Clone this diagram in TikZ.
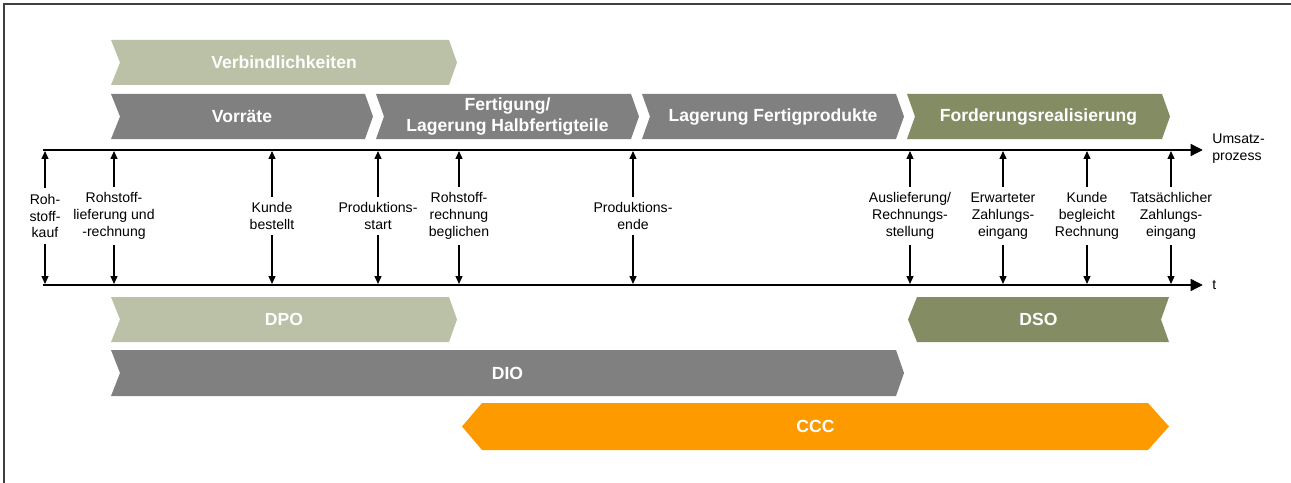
\documentclass[tikz,border=0pt]{standalone}
\usepackage{fontspec}
\setmainfont{Liberation Sans}
\usetikzlibrary{arrows.meta}

\definecolor{hellgruen}{HTML}{BAC1A6}
\definecolor{grau}{HTML}{808080}
\definecolor{dunkelgruen}{HTML}{838C63}
\definecolor{orange}{HTML}{FD9A00}

\tikzset{
  achse/.style={line width=1.7pt,-{Triangle[length=7pt,width=6.5pt]}},
  ereignis/.style={align=center,inner sep=3pt,font=\fontsize{8pt}{9.6pt}\selectfont},
  zeiger/.style={line width=0.6pt,-{Triangle[length=4.5pt,width=4pt]},shorten >=0.6pt},
  balken/.style={text=white,align=center,font=\fontsize{10pt}{12.5pt}\selectfont\bfseries}
}

\begin{document}
\begin{tikzpicture}[x=0.02cm,y=-0.02cm]
            \useasboundingbox (0,0) rectangle (1291,483);
            \draw[black!75,line width=1.1pt] (4,483)--(4,4)--(1291,4);

            % Phasen oben
            \fill[hellgruen] (111,40)--(449,40)--(457,62.5)--(449,85)--(111,85)--(120,62.5)--cycle;
            \fill[grau] (111,94)--(365,94)--(373,116.5)--(365,139)--(111,139)--(120,116.5)--cycle;
            \fill[grau] (376,94)--(631,94)--(639,116.5)--(631,139)--(376,139)--(384,116.5)--cycle;
            \fill[grau] (642,94)--(896,94)--(904,116.5)--(896,139)--(642,139)--(650,116.5)--cycle;
            \fill[dunkelgruen] (907,94)--(1162,94)--(1170,116.5)--(1162,139)--(907,139)--(915,116.5)--cycle;
            \node[balken] (verb) at (284,62.5) {Verbindlichkeiten};
            \node[balken] (vorr) at (242,116.5) {Vorräte};
            \node[balken] (fert) at (507.5,116.5) {Fertigung/\\Lagerung Halbfertigteile};
            \node[balken] (lager) at (773,116.5) {Lagerung Fertigprodukte};
            \node[balken] (ford) at (1038.5,116.5) {Forderungsrealisierung};

            % Zeitachsen
            \coordinate (oben0) at (43,150);
            \coordinate (oben1) at (1203,150);
            \coordinate (unten0) at (43,285);
            \coordinate (unten1) at (1203,285);
            \draw[achse] (oben0)--(oben1);
            \draw[achse] (unten0)--(unten1);
            \node[anchor=west,align=left,inner sep=0pt,font=\fontsize{8pt}{9.6pt}\selectfont] (umsatz) at (1212,149) {Umsatz-\\prozess};
            \node[anchor=west,inner sep=0pt,font=\fontsize{8pt}{9.6pt}\selectfont] (zeit) at (1212,285) {t};

            \foreach \n/\x/\txt in {
                rohkauf/45/{Roh-\\stoff-\\kauf},
                lieferung/114/{Rohstoff-\\lieferung und\\-rechnung},
                bestellt/272/{Kunde\\bestellt},
                start/378/{Produktions-\\start},
                beglichen/459/{Rohstoff-\\rechnung\\beglichen},
                ende/633/{Produktions-\\ende},
                auslieferung/910/{Auslieferung/\\Rechnungs-\\stellung},
                erwartet/1003/{Erwarteter\\Zahlungs-\\eingang},
                begleicht/1087/{Kunde\\begleicht\\Rechnung},
                eingang/1171/{Tatsächlicher\\Zahlungs-\\eingang}}{
                \node[ereignis] (\n) at (\x,216) {\txt};
                \draw[zeiger] (\n)--(\n |- oben0);
                \draw[zeiger] (\n)--(\n |- unten0);
            }

            % Kennzahlen unten
            \fill[hellgruen] (111,297)--(449,297)--(457,319.5)--(449,342)--(111,342)--(120,319.5)--cycle;
            \fill[grau] (111,350)--(896,350)--(904,373)--(896,396)--(111,396)--(120,373)--cycle;
            \fill[dunkelgruen] (917,297)--(1169,297)--(1161,319.5)--(1169,342)--(917,342)--(908,319.5)--cycle;
            \fill[orange] (482,403)--(1148,403)--(1169,426.5)--(1148,450)--(482,450)--(462,426.5)--cycle;
            \node[balken] (dpo) at (284,319.5) {DPO};
            \node[balken] (dio) at (507.5,373) {DIO};
            \node[balken] (dso) at (1038.5,319.5) {DSO};
            \node[balken] (ccc) at (815.5,426.5) {CCC};
        \end{tikzpicture}
\end{document}
